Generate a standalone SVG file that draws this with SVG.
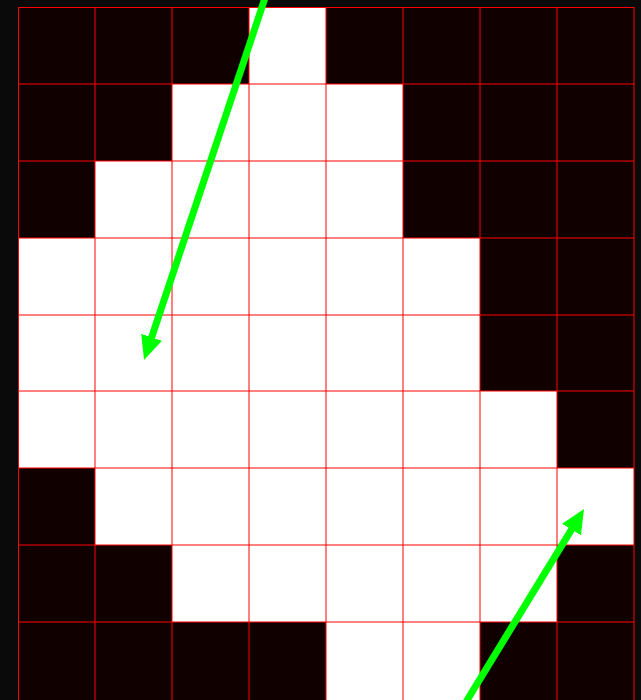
<svg xmlns="http://www.w3.org/2000/svg" width="641" height="700" viewBox="0 0 641 700">
<style>
.d{fill:#100000}
.w{fill:#ffffff}
.g{stroke:#ff0000;stroke-width:1;fill:none}
.arrow{stroke:#00ff00;stroke-width:7;fill:none;marker-end:url(#ah)}
</style>
<defs>
<marker id="ah" markerUnits="userSpaceOnUse" viewBox="0 0 24 22" markerWidth="24" markerHeight="22" refX="9" refY="11" orient="auto">
<path d="M0,0 L24,11 L0,22 z" fill="#00ff00"/>
</marker>
</defs>
<rect width="641" height="700" fill="#0a0a0a"/>
<g id="cells">
<rect x="18" y="7" width="616" height="693" class="d"/>
<rect x="249" y="7" width="77" height="77" class="w"/>
<rect x="172" y="84" width="231" height="77" class="w"/>
<rect x="95" y="161" width="308" height="77" class="w"/>
<rect x="18" y="238" width="462" height="153" class="w"/>
<rect x="18" y="391" width="539" height="77" class="w"/>
<rect x="95" y="468" width="539" height="77" class="w"/>
<rect x="172" y="545" width="385" height="77" class="w"/>
<rect x="326" y="622" width="154" height="78" class="w"/>
</g>
<g id="grid">
<path class="g" d="M95,7V700M172,7V700M249,7V700M326,7V700M403,7V700M480,7V700M557,7V700M18,84H634M18,161H634M18,238H634M18,315H634M18,391H634M18,468H634M18,545H634M18,622H634"/>
<rect x="18.5" y="7.5" width="615.5" height="700" fill="none" stroke="#ff0000" stroke-width="1"/>
</g>
<g id="connectors">
<line class="arrow" x1="265" y1="-2" x2="148.8" y2="345.8"/>
<line class="arrow" x1="466" y1="702" x2="576.2" y2="521.8"/>
</g>
</svg>
